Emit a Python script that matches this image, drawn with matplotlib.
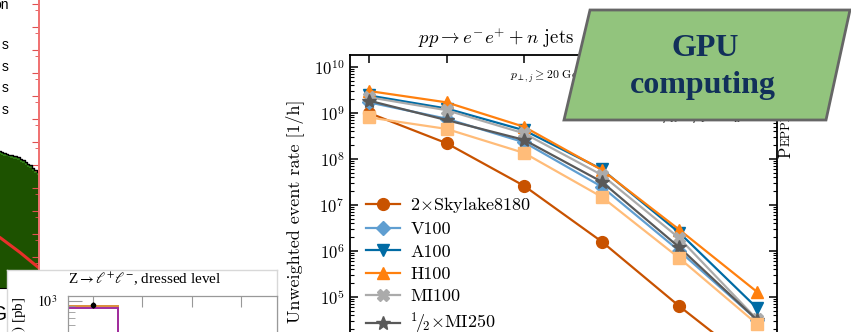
import matplotlib
matplotlib.use("Agg")
import matplotlib.pyplot as plt
import numpy as np
from matplotlib.patches import Polygon
from matplotlib.ticker import FixedLocator, NullFormatter, LogLocator

plt.rcParams["font.family"] = "serif"
plt.rcParams["font.serif"] = ["cmr10"]
plt.rcParams["mathtext.fontset"] = "cm"
plt.rcParams["axes.formatter.use_mathtext"] = True

W, H = 851, 332
fig = plt.figure(figsize=(W / 100, H / 100), dpi=100)


def fx(px):
    return px / W


def fy(py):
    return 1 - py / H


def axes_px(x0, y0, x1, y1, **kw):
    return fig.add_axes([fx(x0), fy(y1), (x1 - x0) / W, (y1 - y0) / H], **kw)


# ---------------- event rates vs. jet multiplicity ----------------
n_jets = [0, 1, 2, 3, 4, 5]
rate_skylake = [1.0e9, 2.2e8, 2.6e7, 1.6e6, 6.3e4, 3.0e3]
rate_v100 = [1.7e9, 7.5e8, 2.3e8, 2.5e7, 1.0e6, 3.2e4]
rate_a100 = [2.4e9, 1.25e9, 4.2e8, 6.0e7, 2.5e6, 5.8e4]
rate_h100 = [3.0e9, 1.7e9, 5.0e8, 5.8e7, 2.9e6, 1.3e5]
rate_mi100 = [2.2e9, 1.15e9, 3.6e8, 4.5e7, 1.9e6, 3.3e4]
rate_mi250_half = [1.85e9, 7.0e8, 2.6e8, 3.2e7, 1.2e6, 3.2e4]
rate_extra = [8.0e8, 4.5e8, 1.35e8, 1.5e7, 7.0e5, 2.6e4]

series = [
    (rate_skylake, r"2$\times$Skylake8180", "#C85200", "o", 8.5),
    (rate_v100, "V100", "#5F9ED1", "D", 7.5),
    (rate_a100, "A100", "#006BA4", "v", 9),
    (rate_h100, "H100", "#FF800E", "^", 9),
    (rate_mi100, "MI100", "#ABABAB", "X", 9),
    (rate_mi250_half, r"${}^1\!/\!{}_2{\times}$MI250", "#595959", "*", 10),
    (rate_extra, None, "#FFBC79", "s", 8.5),
]

ax = axes_px(350, 55, 777, 400)
handles = []
for vals, lab, col, mk, ms in series:
    (h,) = ax.plot(n_jets, vals, color=col, marker=mk, ms=ms, lw=1.6, label=lab)
    if lab is not None:
        handles.append(h)
ax.set_yscale("log")
ax.set_ylim(10 ** 2.76, 10 ** 10.26)
ax.set_xlim(-0.245, 5.26)
ax.set_xticks(n_jets)
ax.yaxis.set_major_locator(LogLocator(base=10, numticks=20))
ax.yaxis.set_minor_locator(LogLocator(base=10, subs=np.arange(2, 10), numticks=20))
ax.tick_params(which="both", direction="in", top=True, right=True, labelsize=12, pad=4,
               labelbottom=False)
ax.tick_params(which="major", length=6, width=1.1)
ax.tick_params(which="minor", length=3, width=0.8)
for s in ax.spines.values():
    s.set_linewidth(1.3)

leg = ax.legend(handles=handles, loc="upper left", bbox_to_anchor=(fx(357), fy(186)),
                bbox_transform=fig.transFigure, frameon=False, fontsize=13,
                handlelength=1.9, handletextpad=0.55, labelspacing=0.37, borderpad=0)

fig.text(fx(418), fy(38), r"$pp \rightarrow e^{-}e^{+} + n$ jets", fontsize=13.5,
         ha="left", va="center")
fig.text(fx(510), fy(76), r"$p_{\perp,j} \geq 20$ GeV", fontsize=8.5, ha="left", va="center")
fig.text(fx(702), fy(120), r"$\mu_R = \mu_F = m_Z$", fontsize=9.5, ha="center",
         va="baseline")
fig.text(fx(295), fy(211), "Unweighted event rate [1/h]", rotation=90, fontsize=13,
         ha="center", va="center")
fig.text(fx(793), fy(158), "P", rotation=90, fontsize=12, ha="right", va="bottom")
fig.text(fx(793), fy(146), "EPPER", rotation=90, fontsize=9, ha="right", va="bottom")

# ---------------- left panel: stacked histogram ----------------
hist_edges = list(range(80, 101))
hist_heights = [6.05, 6.0, 5.98, 5.95, 5.92, 5.88, 5.84, 5.80, 5.79, 5.74, 5.72, 5.70,
                5.62, 5.55, 5.48, 5.40, 5.33, 5.22, 5.12, 5.04]
curve_x = [80, 84, 92, 100]
curve_y = [2.45, 2.17, 1.55, 0.87]

axl = axes_px(-200, -10, 39, 288)
step_y = hist_heights + [hist_heights[-1]]
axl.fill_between(hist_edges, 0, step_y, step="post", color="#2f7f14", lw=0)
axl.fill_between(hist_edges, 0, [v - 0.12 for v in step_y], step="post", color="#1d5200",
                 lw=0)
axl.step(hist_edges, step_y, where="post", color="black", lw=1.0)
axl.plot(curve_x, curve_y, color="#e8302a", lw=2.2)
axl.set_xlim(0, 100)
axl.set_ylim(0, 12.96)
axl.spines["top"].set_visible(False)
axl.spines["left"].set_visible(False)
axl.spines["right"].set_color("#f07070")
axl.spines["right"].set_linewidth(1.4)
axl.yaxis.tick_right()
axl.yaxis.set_major_locator(FixedLocator([k + 0.35 for k in range(13)]))
axl.yaxis.set_minor_locator(FixedLocator([k + 0.07 for k in range(13)]))
axl.tick_params(axis="y", which="both", direction="in", colors="#e05050", labelright=False)
axl.tick_params(axis="y", which="major", length=5)
axl.tick_params(axis="y", which="minor", length=3)
axl.set_xticks([])

for ypx, txt in [(5, "on"), (45, "s"), (67, "s"), (88, "s"), (110, "s")]:
    fig.text(fx(9), fy(ypx), txt, family="Liberation Sans", fontsize=10, ha="right",
             va="center")
fig.text(fx(7), fy(314), "G", family="Liberation Sans", fontsize=15, ha="right",
         va="center")

# ---------------- inset: jet multiplicity in Z production ----------------
bg = axes_px(7, 270, 277, 345)
bg.set_xticks([])
bg.set_yticks([])
bg.set_facecolor("white")
for s in bg.spines.values():
    s.set_color("#d8d8d8")
    s.set_linewidth(1.0)

axi = axes_px(68, 296, 277, 400)
bin_edges = [0, 1, 2, 3, 4]
xs_orange = [891, 150, 25, 5]
xs_purple = [865, 140, 23, 4.5]
data_x = [0.5]
data_y = [920]
data_err = [60]
axi.stairs(xs_orange, bin_edges, color="#d98c3c", lw=1.4)
axi.stairs(xs_purple, bin_edges, color="#a02ca0", lw=1.4)
axi.errorbar(data_x, data_y, yerr=data_err, fmt="o", color="black", ms=3, lw=1)
axi.set_yscale("log")
axi.set_ylim(10 ** 2.1, 10 ** 3.045)
axi.set_xlim(0, 4.22)
axi.xaxis.tick_top()
axi.set_xticks([0.5, 1.5, 2.5, 3.5])
axi.tick_params(axis="x", direction="in", length=8, colors="#999999", labeltop=False)
axi.yaxis.set_major_locator(FixedLocator([1e3]))
axi.yaxis.set_minor_locator(LogLocator(base=10, subs=np.arange(2, 10), numticks=10))
axi.yaxis.set_minor_formatter(NullFormatter())
axi.set_yticklabels([r"$10^3$"])
axi.tick_params(axis="y", which="major", direction="in", length=10, color="#999999",
                labelsize=10, pad=8)
axi.tick_params(axis="y", which="minor", direction="in", length=5, color="#999999")
for lbl in axi.get_yticklabels():
    lbl.set_math_fontfamily("stix")
for s in axi.spines.values():
    s.set_color("#999999")
    s.set_linewidth(0.9)

fig.text(fx(145), fy(279), r"Z$\rightarrow\ell^{+}\ell^{-}$, dressed level",
         family="Liberation Serif", math_fontfamily="stix", fontsize=11, ha="center",
         va="center")
fig.text(fx(20), fy(297), r"$\sigma(N_\mathrm{jet})$ [pb]", family="Liberation Serif",
         math_fontfamily="stix", fontsize=11, rotation=90, ha="center", va="top")

# ---------------- badge ----------------
badge = Polygon([(fx(590), fy(10)), (fx(850), fy(10)), (fx(826), fy(120)), (fx(564), fy(120))],
                closed=True, transform=fig.transFigure, facecolor="#92c47d",
                edgecolor="#666666", lw=2.0, zorder=10)
fig.add_artist(badge)
fig.text(fx(705), fy(48), "GPU", family="Liberation Serif", weight="bold", fontsize=23,
         color="#12305a", ha="center", va="center", zorder=11)
fig.text(fx(703), fy(85), "computing", family="Liberation Serif", weight="bold",
         fontsize=23, color="#12305a", ha="center", va="center", zorder=11)

fig.savefig("out.png", dpi=100)
